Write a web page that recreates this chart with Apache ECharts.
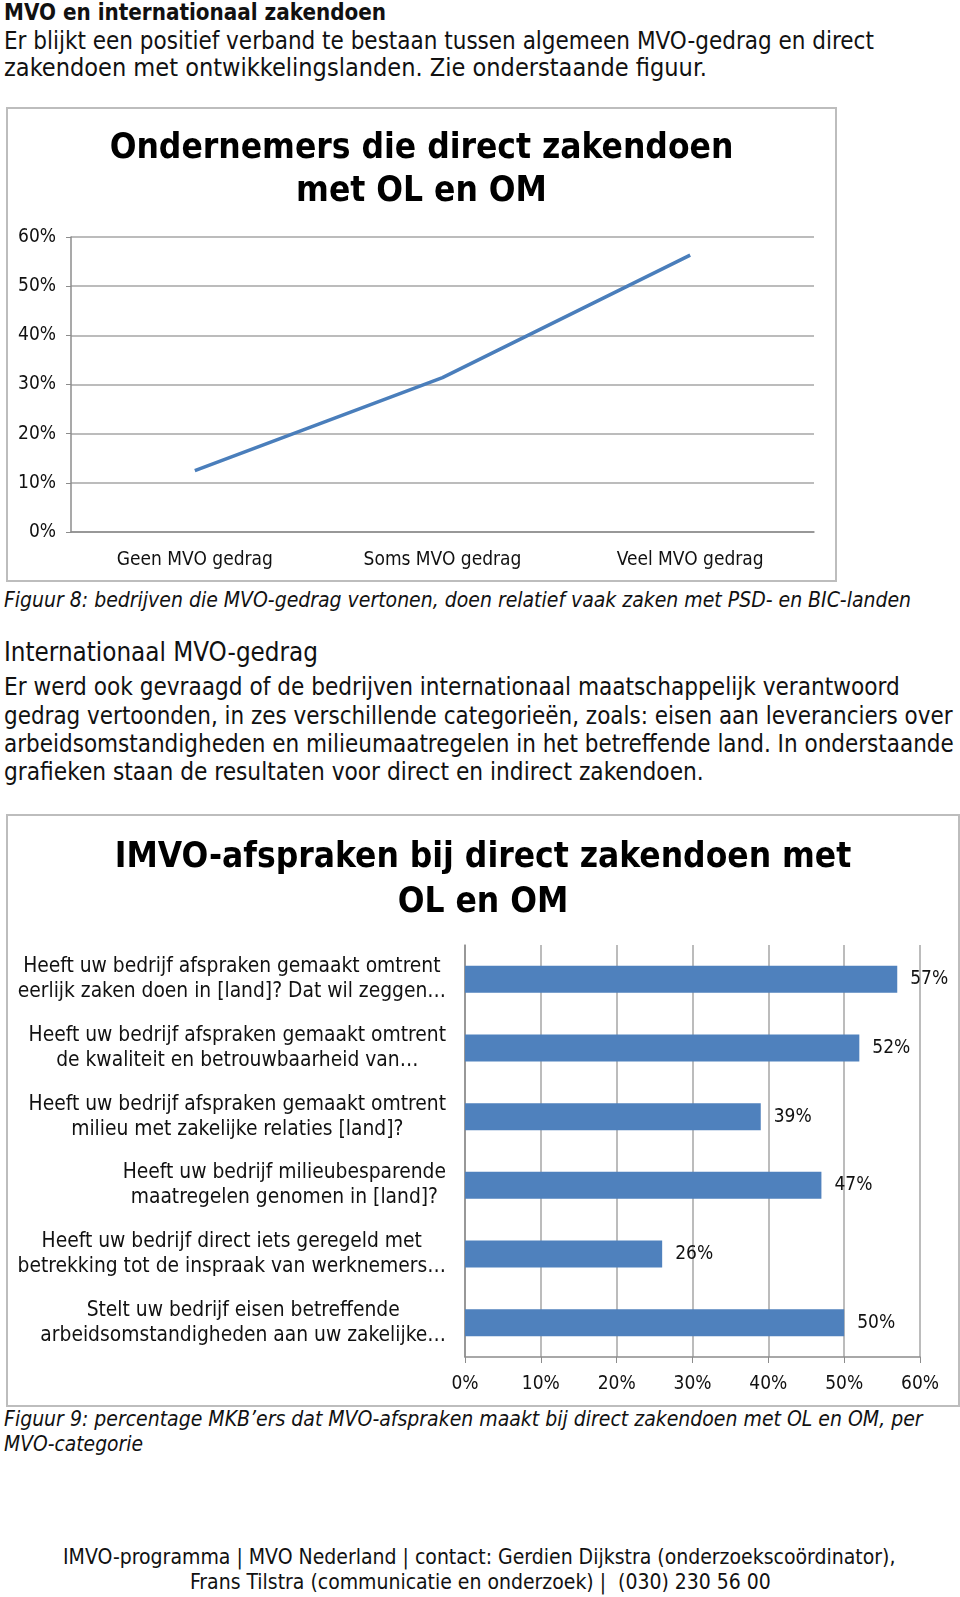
<!DOCTYPE html>
<html lang="nl">
<head>
<meta charset="UTF-8">
<title>IMVO</title>
<script src="https://cdn.jsdelivr.net/npm/echarts@6/dist/echarts.min.js"></script>
<style>
  body { margin: 0; width: 960px; height: 1597px; background: #fff; position: relative; overflow: hidden;
         font-family: "DejaVu Sans Condensed", "DejaVu Sans", sans-serif; color: #111; }
  .ln { position: absolute; white-space: pre; line-height: 28px; height: 28px; }
  .box { position: absolute; border: 2px solid #bdbdbd; box-sizing: border-box; }
  .box > div { width: 100%; height: 100%; }
</style>
</head>
<body>

<div class="box" style="left:6px;top:107px;width:831px;height:475px;"><div id="lijn"></div></div>
<div class="box" style="left:6px;top:814px;width:954px;height:593px;"><div id="staaf"></div></div>

<script type="text/javascript">
// grafiek 1: ondernemers die direct zakendoen
var lijnCategorieen = ['Geen MVO gedrag', 'Soms MVO gedrag', 'Veel MVO gedrag'];
var lijnWaarden = [12.5, 31.4, 56.3];

// grafiek 2: IMVO-afspraken
var staafCategorieen = [
    'Heeft uw bedrijf afspraken gemaakt omtrent\neerlijk zaken doen in [land]? Dat wil zeggen…',
    'Heeft uw bedrijf afspraken gemaakt omtrent\nde kwaliteit en betrouwbaarheid van…',
    'Heeft uw bedrijf afspraken gemaakt omtrent\nmilieu met zakelijke relaties [land]?',
    'Heeft uw bedrijf milieubesparende\nmaatregelen genomen in [land]?',
    'Heeft uw bedrijf direct iets geregeld met\nbetrekking tot de inspraak van werknemers…',
    'Stelt uw bedrijf eisen betreffende\narbeidsomstandigheden aan uw zakelijke…'
];
var staafWaarden = [57, 52, 39, 47, 26, 50];

// tekstregels van de pagina: tekst, x, midden y, doelbreedte, stijl
var regels = [
    ['MVO en internationaal zakendoen', 4, 12, 382, 'font-weight:bold'],
    ['Er blijkt een positief verband te bestaan tussen algemeen MVO-gedrag en direct', 4, 41, 870, ''],
    ['zakendoen met ontwikkelingslanden. Zie onderstaande figuur.', 4, 68, 703, ''],
    ['Figuur 8: bedrijven die MVO-gedrag vertonen, doen relatief vaak zaken met PSD- en BIC-landen', 4, 600, 907, 'font-style:italic'],
    ['Internationaal MVO-gedrag', 4, 652, 314, ''],
    ['Er werd ook gevraagd of de bedrijven internationaal maatschappelijk verantwoord', 4, 687, 896, ''],
    ['gedrag vertoonden, in zes verschillende categorieën, zoals: eisen aan leveranciers over', 4, 716, 949, ''],
    ['arbeidsomstandigheden en milieumaatregelen in het betreffende land. In onderstaande', 4, 744, 950, ''],
    ['grafieken staan de resultaten voor direct en indirect zakendoen.', 4, 772, 700, ''],
    ['Figuur 9: percentage MKB’ers dat MVO-afspraken maakt bij direct zakendoen met OL en OM, per', 4, 1419, 919, 'font-style:italic'],
    ['MVO-categorie', 4, 1444, 139, 'font-style:italic'],
    ['IMVO-programma | MVO Nederland | contact: Gerdien Dijkstra (onderzoekscoördinator),', 63, 1557, 833, ''],
    ['Frans Tilstra (communicatie en onderzoek) |  (030) 230 56 00', 190, 1582, 581, '']
];

regels.forEach(function (r) {
    var d = document.createElement('div');
    d.className = 'ln';
    d.textContent = r[0];
    d.style.cssText = 'left:' + r[1] + 'px;top:' + (r[2] - 14) + 'px;font-size:20px;' + r[4];
    document.body.appendChild(d);
    var w = d.getBoundingClientRect().width;
    d.style.fontSize = (20 * r[3] / w).toFixed(2) + 'px';
});

var font = '"DejaVu Sans Condensed", "DejaVu Sans", sans-serif';

var lijnChart = echarts.init(document.getElementById('lijn'));
lijnChart.setOption({
    animation: false,
    title: {
        text: 'Ondernemers die direct zakendoen\nmet OL en OM',
        left: 'center', top: 18, padding: 0,
        textStyle: { fontFamily: font, fontSize: 35, fontWeight: 'bold', lineHeight: 43, color: '#000' }
    },
    grid: { left: 63, right: 21, top: 128, bottom: 48 },
    xAxis: {
        type: 'category',
        data: lijnCategorieen,
        axisLine: { lineStyle: { color: '#8c8c8c', width: 1.5 } },
        axisTick: { length: 6, lineStyle: { color: '#8c8c8c' } },
        axisLabel: { fontFamily: font, fontSize: 19, color: '#111', margin: 19 }
    },
    yAxis: {
        type: 'value', min: 0, max: 60, interval: 10,
        axisLine: { show: true, lineStyle: { color: '#8c8c8c', width: 1.5 } },
        axisTick: { show: true, length: 5, lineStyle: { color: '#8c8c8c' } },
        splitLine: { lineStyle: { color: '#a6a6a6', width: 1.5 } },
        axisLabel: { fontFamily: font, fontSize: 19, color: '#111', margin: 15, formatter: '{value}%' }
    },
    series: [{
        type: 'line',
        data: lijnWaarden,
        symbol: 'none',
        lineStyle: { color: '#4a7ebb', width: 3.5 }
    }]
});

var staafChart = echarts.init(document.getElementById('staaf'));
staafChart.setOption({
    animation: false,
    title: {
        text: 'IMVO-afspraken bij direct zakendoen met\nOL en OM',
        left: 'center', top: 19, padding: 0,
        textStyle: { fontFamily: font, fontSize: 35, fontWeight: 'bold', lineHeight: 45, color: '#000' }
    },
    grid: { left: 457, right: 38, top: 129, bottom: 48 },
    xAxis: {
        type: 'value', min: 0, max: 60, interval: 10,
        axisLine: { show: true, lineStyle: { color: '#8c8c8c', width: 1.5 } },
        axisTick: { show: true, length: 6, lineStyle: { color: '#8c8c8c' } },
        splitLine: { lineStyle: { color: '#a6a6a6', width: 1.5 } },
        axisLabel: { fontFamily: font, fontSize: 19, color: '#111', margin: 18, formatter: '{value}%' }
    },
    yAxis: {
        type: 'category',
        inverse: true,
        data: staafCategorieen,
        axisLine: { lineStyle: { color: '#8c8c8c', width: 1.5 } },
        axisTick: { length: 6, lineStyle: { color: '#8c8c8c' } },
        axisLabel: {
            margin: 19,
            formatter: function (v) {
                return v.split('\n').map(function (s) { return '{c|' + s + '}'; }).join('\n');
            },
            rich: { c: { align: 'center', fontFamily: font, fontSize: 20.8, lineHeight: 25, color: '#111' } }
        }
    },
    series: [{
        type: 'bar',
        data: staafWaarden,
        barWidth: 27,
        itemStyle: { color: '#4f81bd' },
        label: { show: true, position: 'right', distance: 13, fontFamily: font, fontSize: 19, color: '#111', formatter: '{c}%' }
    }]
});
</script>
</body>
</html>
